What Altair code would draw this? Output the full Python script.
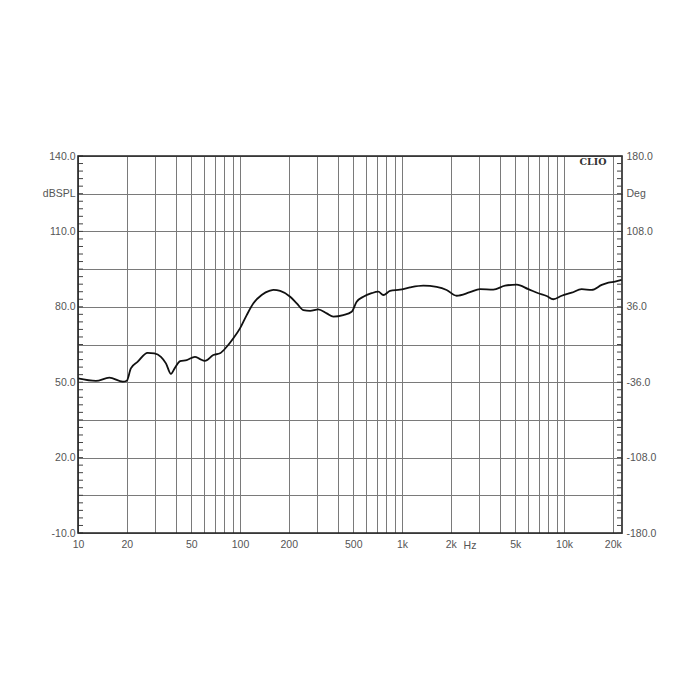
import altair as alt
import pandas as pd

# ---------------- data ----------------
freq = [10, 12.9, 15.6, 18.9, 20, 21.2, 23.3, 26.9, 29.6, 32.5, 34.9, 37.5, 39.5,
        42.7, 46.9, 52.7, 56.6, 60.8, 68.4, 75.3, 82.8, 91, 100, 110, 121, 136,
        153, 161, 177, 204, 224, 246, 271, 304, 343, 377, 434, 489, 525, 577,
        649, 714, 767, 844, 972, 1120, 1353, 1636, 1885, 2172, 2628, 3029, 3659,
        4325, 5107, 6025, 6941, 7813, 8590, 9680, 11150, 12850, 14820, 17100,
        18800, 20650, 22700]
spl = [51.5, 50.5, 51.8, 50.2, 50.6, 55.5, 58.1, 61.7, 61.5, 60.1, 57.5, 53.3, 55.5,
       58.4, 58.8, 60.1, 59.2, 58.5, 60.8, 61.5, 64.1, 67.5, 71.4, 76.7, 81.4, 84.7,
       86.4, 86.7, 86.3, 84.0, 81.4, 78.7, 78.4, 79.0, 77.4, 76.1, 76.7, 78.0, 82.0, 84.0,
       85.4, 86.0, 84.7, 86.3, 86.8, 87.7, 88.4, 87.9, 86.7, 84.4, 85.8, 87.0, 86.8,
       88.4, 88.8, 87.0, 85.4, 84.3, 83.0, 84.4, 85.6, 87.0, 86.7, 88.7,
       89.6, 90.0, 90.7]

x_grid = [10, 20, 30, 40, 50, 60, 70, 80, 90, 100, 200, 300, 400, 500, 600, 700, 800, 900,
          1000, 2000, 3000, 4000, 5000, 6000, 7000, 8000, 9000, 10000, 20000]
x_labels = {10: "10", 20: "20", 50: "50", 100: "100", 200: "200", 500: "500",
            1000: "1k", 2000: "2k", 5000: "5k", 10000: "10k", 20000: "20k"}

db_values = [-10, 5, 20, 35, 50, 65, 80, 95, 110, 125, 140]
db_labels = {140: "140.0", 125: "dBSPL", 110: "110.0", 80: "80.0", 50: "50.0",
             20: "20.0", -10: "-10.0"}
deg_values = [-180, -144, -108, -72, -36, 0, 36, 72, 108, 144, 180]
deg_labels = {180: "180.0", 144: "Deg", 108: "108.0", 36: "36.0", -36: "-36.0",
              -108: "-108.0", -180: "-180.0"}

db_minor = list(range(-10, 141, 3))
deg_minor = [round(-180 + 7.2 * i, 1) for i in range(51)]

hz_note = {"f": [2630], "t": ["Hz"]}
clio_note = {"f": [15100], "spl": [137.6], "t": ["CLIO"]}

W, H = 544, 377


def label_expr(mapping):
    expr = "''"
    for v, t in mapping.items():
        expr = f"datum.value == {v} ? '{t}' : ({expr})"
    return expr


df = pd.DataFrame({"f": freq, "spl": spl})
x_scale = alt.Scale(type="log", domain=[10, 22800], nice=False)
y_scale = alt.Scale(domain=[-10, 140], nice=False, zero=False)
deg_scale = alt.Scale(domain=[-180, 180], nice=False, zero=False)

lab = dict(labelFont="Liberation Sans", labelFontSize=10.5, labelColor="#555555",
           labelOverlap=False, labelFlush=False, ticks=False, domain=False, title=None)

x_axis = alt.Axis(values=x_grid, labelExpr=label_expr(x_labels), grid=True,
                  gridColor="#7a7a7a", gridWidth=1, labelPadding=6, **lab)
y_axis = alt.Axis(values=db_values, labelExpr=label_expr(db_labels), grid=True,
                  gridColor="#7a7a7a", gridWidth=1, labelPadding=3, orient="left", **lab)
deg_axis = alt.Axis(values=deg_values, labelExpr=label_expr(deg_labels), grid=False,
                    labelPadding=4, orient="right", labelAlign="left", **lab)

line = alt.Chart(df).mark_line(color="#111111", strokeWidth=1.8, interpolate="monotone").encode(
    x=alt.X("f:Q", scale=x_scale, axis=x_axis),
    y=alt.Y("spl:Q", scale=y_scale, axis=y_axis),
)

left_ticks = alt.Chart(pd.DataFrame({"spl": db_minor})).mark_rule(color="#444444", strokeWidth=1).encode(
    y=alt.Y("spl:Q", scale=y_scale, axis=y_axis),
    x=alt.value(0), x2=alt.value(5),
)

hz = alt.Chart(pd.DataFrame(hz_note)).mark_text(
    font="Liberation Sans", fontSize=10.5, color="#555555", baseline="middle"
).encode(x=alt.X("f:Q", scale=x_scale, axis=x_axis), y=alt.value(H + 13), text="t:N")

clio = alt.Chart(pd.DataFrame(clio_note)).mark_text(
    font="DejaVu Serif", fontSize=9.5, fontWeight="bold", color="#333333", baseline="middle"
).encode(x=alt.X("f:Q", scale=x_scale, axis=x_axis),
         y=alt.Y("spl:Q", scale=y_scale, axis=y_axis), text="t:N")

frame = alt.Chart(pd.DataFrame({"a": [0]})).mark_rect(
    fill=None, stroke="#222222", strokeWidth=1.6
).encode(x=alt.value(0), x2=alt.value(W), y=alt.value(0), y2=alt.value(H))

left = alt.layer(line, left_ticks, hz, clio, frame)

right_ticks = alt.Chart(pd.DataFrame({"d": deg_minor})).mark_rule(color="#444444", strokeWidth=1).encode(
    y=alt.Y("d:Q", scale=deg_scale, axis=deg_axis),
    x=alt.value(W - 5), x2=alt.value(W),
)

chart = alt.layer(left, right_ticks).resolve_scale(y="independent").properties(
    width=W, height=H,
    autosize=alt.AutoSizeParams(type="none"),
    padding={"left": 70, "top": 148, "right": 70, "bottom": 159},
    background="white",
).configure_view(stroke=None)

chart.save("out.html", embed_options={"renderer": "svg", "actions": False})
